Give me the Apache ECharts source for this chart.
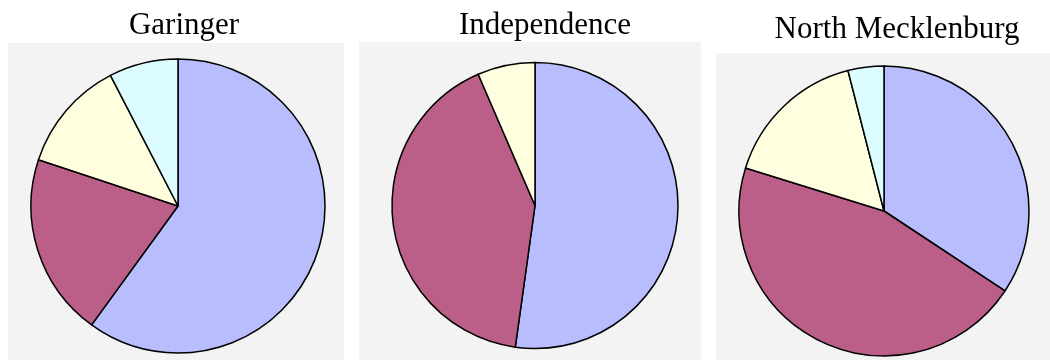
<!DOCTYPE html>
<html>
<head>
<meta charset="utf-8">
<script src="https://cdn.jsdelivr.net/npm/echarts@6/dist/echarts.min.js"></script>
<style>
html,body{margin:0;padding:0;background:#fff;}
#c{width:1050px;height:360px;}
</style>
</head>
<body>
<div id="c"></div>
<script>
const schools = ['Garinger', 'Independence', 'North Mecklenburg'];
const categories = ['Group 1', 'Group 2', 'Group 3', 'Group 4'];
const garinger = [60, 20.1, 12.3, 7.6];
const independence = [52.2, 41.3, 6.5, 0];
const northMecklenburg = [34.3, 45.5, 16.2, 4.0];
const sliceColors = ['#b8bdfd', '#bb5f88', '#ffffe0', '#dcfcff'];

const seriesValues = [garinger, independence, northMecklenburg];
const layout = [
  {panel: [8, 43, 336, 317], center: [178, 206], r: 147, titleX: 184, titleY: 10},
  {panel: [359, 42, 342, 318], center: [535, 205.5], r: 143, titleX: 545, titleY: 10},
  {panel: [716, 53, 334, 307], center: [884, 211], r: 145, titleX: 897, titleY: 14}
];

const chart = echarts.init(document.getElementById('c'), null, {renderer: 'canvas'});
chart.setOption({
  animation: false,
  backgroundColor: '#ffffff',
  title: schools.map((s, i) => ({
    text: s,
    left: layout[i].titleX,
    top: layout[i].titleY,
    textAlign: 'center',
    padding: 0,
    textStyle: {fontFamily: 'Liberation Serif', fontWeight: 'normal', fontSize: 31, color: '#000'}
  })),
  graphic: layout.map(l => ({
    type: 'rect', z: -10, silent: true,
    shape: {x: l.panel[0], y: l.panel[1], width: l.panel[2], height: l.panel[3]},
    style: {fill: '#f3f3f3'}
  })),
  series: seriesValues.map((vals, i) => ({
    type: 'pie',
    center: layout[i].center,
    radius: layout[i].r,
    startAngle: 90,
    clockwise: true,
    label: {show: false},
    labelLine: {show: false},
    emphasis: {disabled: true},
    itemStyle: {borderColor: '#000', borderWidth: 1.5},
    data: vals.map((v, j) => ({name: categories[j], value: v, itemStyle: {color: sliceColors[j]}})).filter(d => d.value > 0)
  }))
});
</script>
</body>
</html>
